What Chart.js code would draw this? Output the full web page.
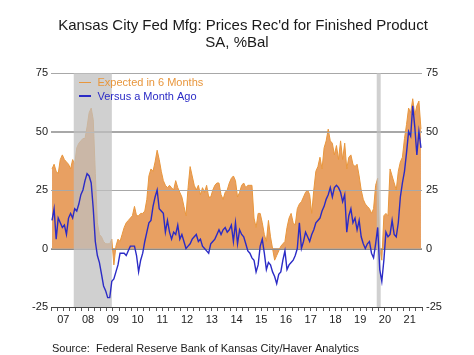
<!DOCTYPE html>
<html><head><meta charset="utf-8">
<script src="https://cdn.jsdelivr.net/npm/chart.js@4"></script>
<style>html,body{margin:0;padding:0;background:#fff}#wrap{width:474px;height:355px;position:relative}</style>
</head><body><div id="wrap"><canvas id="c" width="474" height="355"></canvas></div>
<script>
const startYear = 2007;
const expected6m = [
 34,36,33,32,38,40,38,37,36,34,38,36,
 43,45,46,47,47,52,58,60,55,32,11,6,
 5,3,2,2,2,4,-7,1,4,3,6,9,
 11,12,13,14,18,14,14,15,15,16,21,31,
 34,33,37,42,38,33,29,27,26,27,26,25,
 29,26,24,22,18,14,26,35,31,27,25,27,
 23,26,24,27,22,22,25,27,28,28,23,21,
 24,25,28,30,31,29,22,24,27,28,26,27,
 27,27,13,9,15,15,11,6,3,12,5,0,
 -5,-3,-1,1,2,3,9,13,15,11,10,17,
 19,20,22,24,25,23,15,25,33,35,39,34,
 43,46,51,46,45,40,44,38,46,38,45,34,
 39,40,36,35,36,31,25,21,19,18,17,15,
 17,27,30,0,-5,14,15,14,34,31,28,25,
 33,37,39,47,53,60,58,64,57,61,63,51
];
const versusMonthAgo = [
 12,17,4,13,11,9,10,6,13,15,13,17,
 16,19,23,25,29,32,31,28,17,3,-3,-6,
 -11,-16,-18,-21,-21,-14,-13,-10,-7,-2,-2,-2,
 -3,-1,1,1,1,-3,-10,-5,-2,3,7,11,
 12,18,22,25,17,16,15,7,12,7,4,7,
 6,10,4,6,3,0,1,2,4,5,6,3,
 4,1,0,-1,-2,2,3,4,6,8,6,8,
 9,7,8,10,3,11,2,8,6,5,2,-1,
 -2,-4,-5,-10,-7,1,4,-2,-9,-6,-7,-10,
 -12,-15,-11,-10,-5,-1,-9,-7,-6,-5,-3,0,
 11,0,3,7,5,3,6,8,11,12,13,16,
 18,21,23,26,22,26,27,26,24,20,23,7,
 14,17,11,13,8,12,5,2,0,2,3,-2,
 -4,2,9,-9,-14,-5,7,5,6,12,6,5,
 11,22,28,33,41,50,48,61,52,40,50,43
];
const yTicks = [-25, 0, 25, 50, 75];
const yearLabels = ['07','08','09','10','11','12','13','14','15','16','17','18','19','20','21'];
const recessions = [[2007.92, 2009.46], [2020.17, 2020.33]];
const titleLines = ["Kansas City Fed Mfg: Prices Rec'd for Finished Product", "SA, %Bal"];
const legendLabels = ['Expected in 6 Months', 'Versus a Month Ago'];
const sourceText = 'Source:  Federal Reserve Bank of Kansas City/Haver Analytics';

const ORANGE_FILL = '#E8A062';
const ORANGE_LINE = '#E8963C';
const BLUE = '#2B2BC6';
const FONT = '"Liberation Sans", Arial, sans-serif';

const toPts = arr => arr.map((v, i) => ({x: startYear + (i + 0.5) / 12, y: v}));

const overlay = {
  id: 'overlay',
  afterDatasetDraw(chart, args) {
    if (args.index !== 0) return;
    const {ctx, chartArea: a} = chart;
    const y = chart.scales.y, x = chart.scales.x;
    ctx.save();
    ctx.beginPath(); ctx.rect(a.left, a.top, a.right - a.left, a.bottom - a.top); ctx.clip();
    ctx.lineWidth = 1;
    [0, 25, 50, 75].forEach(v => {
      const py = Math.round(y.getPixelForValue(v)) + 0.5;
      ctx.strokeStyle = v === 0 ? '#8a8a8a' : '#a8a8a8';
      ctx.beginPath(); ctx.moveTo(a.left, py); ctx.lineTo(a.right, py); ctx.stroke();
    });
    ctx.fillStyle = 'rgba(192,192,192,0.74)';
    recessions.forEach(([s, e]) => {
      const x0 = x.getPixelForValue(s), x1 = x.getPixelForValue(e);
      ctx.fillRect(x0, a.top, x1 - x0, a.bottom - a.top);
    });
    ctx.restore();
  },
  afterDraw(chart) {
    const ctx = chart.ctx;
    ctx.save();
    ctx.fillStyle = '#1a1a1a';
    ctx.font = '15px ' + FONT;
    ctx.textAlign = 'center';
    ctx.textBaseline = 'alphabetic';
    ctx.fillText(titleLines[0], 243, 29.5);
    ctx.fillText(titleLines[1], 237, 46.5);
    // legend
    ctx.font = '11px ' + FONT;
    ctx.textAlign = 'left';
    ctx.lineWidth = 1;
    ctx.strokeStyle = ORANGE_LINE;
    ctx.beginPath(); ctx.moveTo(79, 82.5); ctx.lineTo(91, 82.5); ctx.stroke();
    ctx.fillStyle = ORANGE_LINE;
    ctx.fillText(legendLabels[0], 97.5, 86);
    ctx.lineWidth = 2;
    ctx.strokeStyle = BLUE;
    ctx.beginPath(); ctx.moveTo(79, 96); ctx.lineTo(91, 96); ctx.stroke();
    ctx.fillStyle = BLUE;
    ctx.fillText(legendLabels[1], 97.5, 99.5);
    // source
    ctx.fillStyle = '#1a1a1a';
    ctx.fillText(sourceText, 52, 352);
    ctx.restore();
  }
};

new Chart(document.getElementById('c'), {
  type: 'line',
  data: {
    datasets: [
      {label: legendLabels[0], data: toPts(expected6m), fill: 'origin', backgroundColor: ORANGE_FILL,
       borderColor: ORANGE_LINE, borderWidth: 1, pointRadius: 0, tension: 0, order: 2, yAxisID: 'y'},
      {label: legendLabels[1], data: toPts(versusMonthAgo), fill: false, borderColor: BLUE,
       borderWidth: 1.4, pointRadius: 0, tension: 0, order: 1, yAxisID: 'y'}
    ]
  },
  options: {
    responsive: false, animation: false, devicePixelRatio: 1,
    layout: {padding: {top: 73, left: 0, right: 0, bottom: 0}},
    plugins: {legend: {display: false}, title: {display: false}, tooltip: {enabled: false}},
    scales: {
      x: {
        type: 'linear', min: 2007, max: 2022,
        afterBuildTicks: s => { const t = []; for (let q = 0; q <= 60; q++) t.push({value: 2007 + q / 4}); s.ticks = t; },
        afterFit: s => { s.height = 48; },
        ticks: {autoSkip: false, maxRotation: 0, padding: 2, color: '#222', font: {family: FONT, size: 11},
          callback: v => (Math.abs(v % 1 - 0.5) < 1e-6 ? yearLabels[Math.floor(v) - 2007] : '')},
        grid: {drawOnChartArea: false, drawTicks: true, tickLength: 4, color: '#555'},
        border: {display: true, color: '#444', width: 1}
      },
      y: {
        type: 'linear', position: 'left', min: -25, max: 75,
        afterBuildTicks: s => { s.ticks = yTicks.map(v => ({value: v})); },
        afterFit: s => { s.width = 51; },
        ticks: {padding: 3, color: '#222', font: {family: FONT, size: 11}},
        grid: {drawTicks: false, color: c => (c.tick && c.tick.value === -25 ? 'rgba(0,0,0,0)' : '#a8a8a8')},
        border: {display: false}
      },
      y2: {
        type: 'linear', position: 'right', min: -25, max: 75,
        afterBuildTicks: s => { s.ticks = yTicks.map(v => ({value: v})); },
        afterFit: s => { s.width = 52; },
        ticks: {padding: 4, color: '#222', font: {family: FONT, size: 11}},
        grid: {display: false, drawTicks: false},
        border: {display: false}
      }
    }
  },
  plugins: [overlay]
});
</script></body></html>
